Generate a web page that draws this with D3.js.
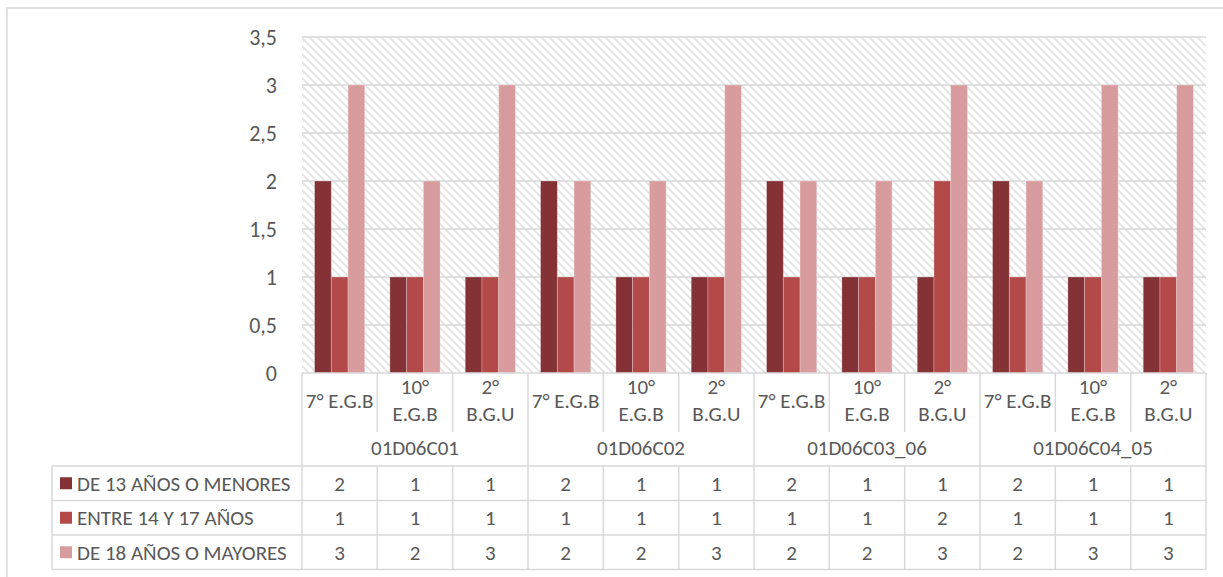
<!DOCTYPE html>
<meta charset="utf-8">
<style>
  body { margin: 0; background: #fff; }
  text { font-family: Calibri, Carlito, "Open Sans", sans-serif; fill: #595959; }
</style>
<body>
<script src="https://cdn.jsdelivr.net/npm/d3@7"></script>
<script>
// data
var groups = ["01D06C01", "01D06C02", "01D06C03_06", "01D06C04_05"];
var levels = [["7° E.G.B"], ["10°", "E.G.B"], ["2°", "B.G.U"]];
var seriesNames = ["DE 13 AÑOS O MENORES", "ENTRE 14 Y 17 AÑOS", "DE 18 AÑOS O MAYORES"];
var menores = [2, 1, 1, 2, 1, 1, 2, 1, 1, 2, 1, 1];
var entre = [1, 1, 1, 1, 1, 1, 1, 1, 2, 1, 1, 1];
var mayores = [3, 2, 3, 2, 2, 3, 2, 2, 3, 2, 3, 3];
var yTicks = [0, 0.5, 1, 1.5, 2, 2.5, 3, 3.5];
var colors = ["#843236", "#B4494A", "#D99C9E"];

var width = 1223, height = 577;
var mLeft = 302, mRight = 1206, mTop = 37, mBottom = 373;
var series = [menores, entre, mayores];

var svg = d3.select("body").append("svg")
  .attr("width", width)
  .attr("height", height);

var defs = svg.append("defs");
var pat = defs.append("pattern")
  .attr("id", "hatch")
  .attr("patternUnits", "userSpaceOnUse")
  .attr("width", 8).attr("height", 8);
pat.append("path")
  .attr("d", "M-2,-2 L10,10 M-2,6 L2,10 M6,-2 L10,2")
  .attr("stroke", "#e3e3e3")
  .attr("stroke-width", 1.8);

// outer border
svg.append("rect")
  .attr("x", 7).attr("y", 8)
  .attr("width", width + 10).attr("height", height + 10)
  .attr("fill", "none").attr("stroke", "#d9d9d9").attr("stroke-width", 1.5);

var cats = d3.range(12);
var x = d3.scaleBand().domain(cats).range([mLeft, mRight]);
var xs = d3.scaleBand().domain([0, 1, 2]).range([0, x.bandwidth()]).paddingOuter(0.75);
var y = d3.scaleLinear().domain([0, 3.5]).range([mBottom, mTop]);

svg.append("rect")
  .attr("x", mLeft).attr("y", mTop)
  .attr("width", mRight - mLeft).attr("height", mBottom - mTop)
  .attr("fill", "url(#hatch)");

svg.append("g").selectAll("line")
  .data(yTicks.slice(1))
  .join("line")
  .attr("x1", mLeft).attr("x2", mRight)
  .attr("y1", function(d) { return y(d); })
  .attr("y2", function(d) { return y(d); })
  .attr("stroke", "#d9d9d9").attr("stroke-width", 1.5);

svg.append("g").selectAll("text")
  .data(yTicks)
  .join("text")
  .attr("x", 277)
  .attr("y", function(d) { return y(d); })
  .attr("dy", "0.35em")
  .attr("text-anchor", "end")
  .style("font-size", "22px")
  .text(function(d) { return String(d).replace(".", ","); });

// bars
series.forEach(function(vals, s) {
  svg.append("g").selectAll("rect")
    .data(vals)
    .join("rect")
    .attr("x", function(d, i) { return x(i) + xs(s); })
    .attr("y", function(d) { return y(d); })
    .attr("width", xs.bandwidth())
    .attr("height", function(d) { return mBottom - y(d); })
    .attr("fill", colors[s])
    .attr("stroke", "#fff").attr("stroke-opacity", 0.35).attr("stroke-width", 0.75);
});

// axis table
var line = "#d9d9d9";
var subBottom = 432, groupBottom = 466;
var rowH = 34.5;
var ax = svg.append("g").attr("stroke", line).attr("stroke-width", 1.5);
ax.append("line").attr("x1", mLeft).attr("x2", mRight).attr("y1", mBottom).attr("y2", mBottom);
cats.forEach(function(i) {
  var xx = x(i);
  var isGroupEdge = i % 3 === 0;
  ax.append("line").attr("x1", xx).attr("x2", xx)
    .attr("y1", mBottom).attr("y2", isGroupEdge ? groupBottom : subBottom);
});
ax.append("line").attr("x1", mRight).attr("x2", mRight)
  .attr("y1", mBottom).attr("y2", groupBottom + rowH * 3);

svg.append("g").selectAll("text")
  .data(cats)
  .join("text")
  .attr("text-anchor", "middle")
  .style("font-size", "21px")
  .each(function(i) {
    var lab = levels[i % 3];
    var t = d3.select(this);
    var cx = x(i) + x.bandwidth() / 2;
    if (lab.length === 1) {
      t.append("tspan").attr("x", cx).attr("y", 408).text(lab[0]);
    } else {
      t.append("tspan").attr("x", cx).attr("y", 394).text(lab[0]);
      t.append("tspan").attr("x", cx).attr("y", 421).text(lab[1]);
    }
  });

svg.append("g").selectAll("text")
  .data(groups)
  .join("text")
  .attr("x", function(d, g) { return (x(g * 3) + x(g * 3 + 2) + x.bandwidth()) / 2; })
  .attr("y", 455)
  .attr("text-anchor", "middle")
  .style("font-size", "21px")
  .text(function(d) { return d; });

// data table
var tbl = svg.append("g").attr("stroke", line).attr("stroke-width", 1.5);
d3.range(4).forEach(function(r) {
  var yy = groupBottom + r * rowH;
  tbl.append("line").attr("x1", 52).attr("x2", mRight).attr("y1", yy).attr("y2", yy);
});
tbl.append("line").attr("x1", 52).attr("x2", 52).attr("y1", groupBottom).attr("y2", groupBottom + rowH * 3);
cats.forEach(function(i) {
  tbl.append("line").attr("x1", x(i)).attr("x2", x(i))
    .attr("y1", groupBottom).attr("y2", groupBottom + rowH * 3);
});

series.forEach(function(vals, s) {
  var cy = groupBottom + s * rowH + rowH / 2;
  svg.append("rect")
    .attr("x", 60).attr("y", cy - 6)
    .attr("width", 12).attr("height", 12)
    .attr("fill", colors[s]);
  svg.append("text")
    .attr("x", 77).attr("y", cy).attr("dy", "0.35em")
    .style("font-size", "21px")
    .text(seriesNames[s]);
  svg.append("g").selectAll("text")
    .data(vals)
    .join("text")
    .attr("x", function(d, i) { return x(i) + x.bandwidth() / 2; })
    .attr("y", cy).attr("dy", "0.35em")
    .attr("text-anchor", "middle")
    .style("font-size", "21px")
    .text(function(d) { return d; });
});
</script>
</body>
